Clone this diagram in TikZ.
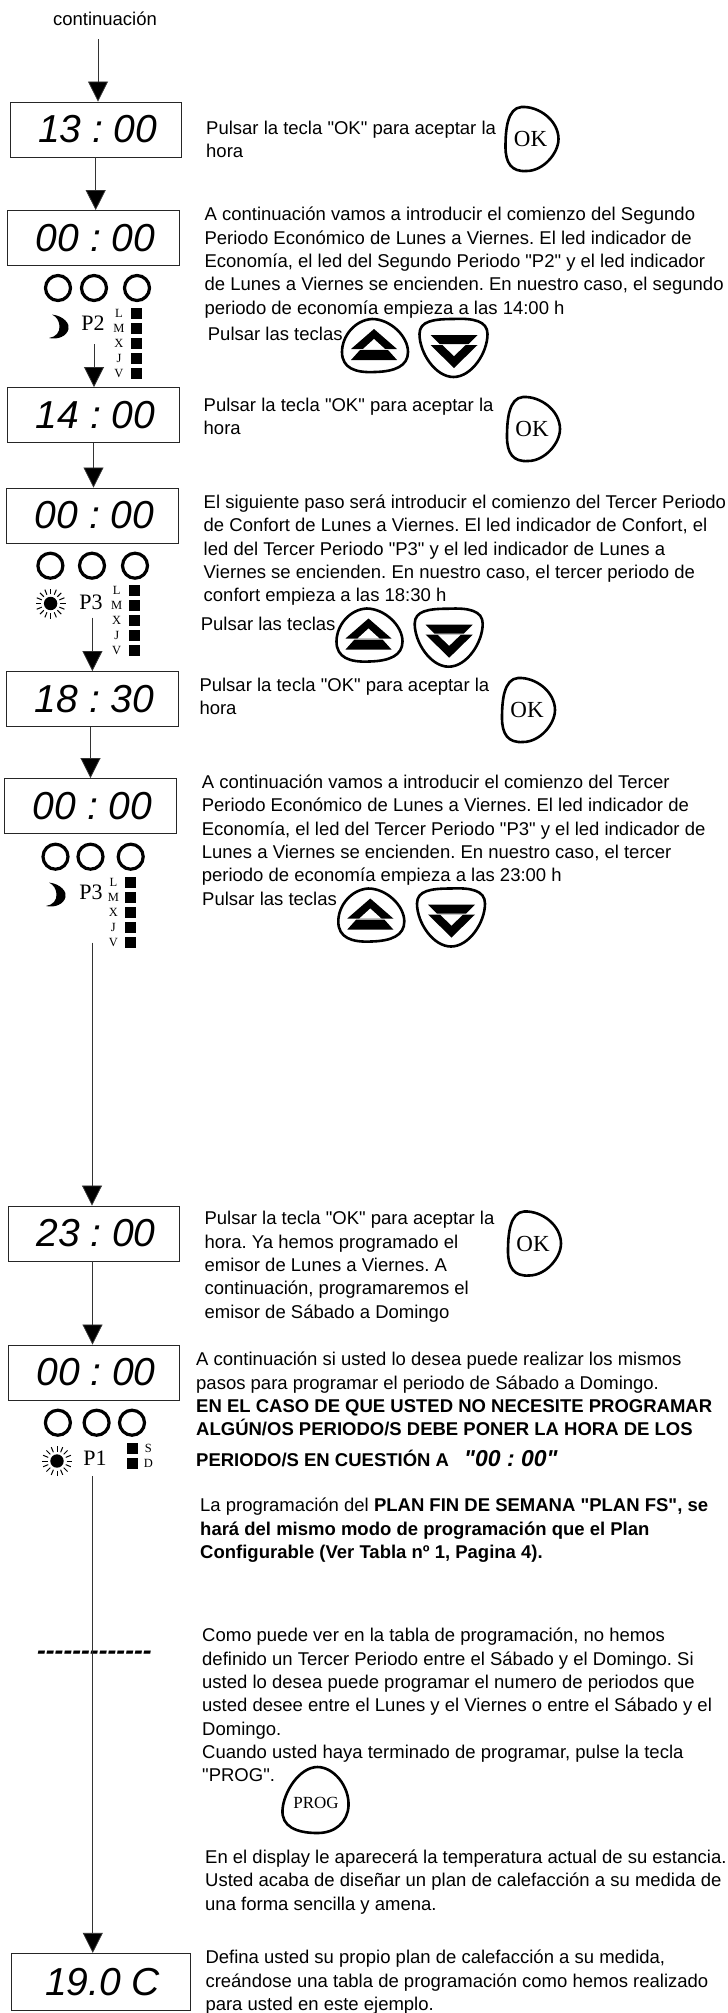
\documentclass[tikz,border=0pt]{standalone}
\usepackage{fontspec}
\usepackage{tikz}
\usetikzlibrary{arrows.meta}
\setmainfont{Liberation Sans}
\newfontfamily\manualfont{Liberation Sans}
\newfontfamily\keyfont{Liberation Serif}

\begin{document}
\frenchspacing
\begin{tikzpicture}[x=1pt,y=-1pt,
	  display/.style={draw=black!85,line width=0.9pt,minimum width=171.5pt,minimum height=55pt,inner sep=0pt,font=\itshape\fontsize{39}{39}\selectfont,execute at begin node=\hspace{4pt}},
	  flow/.style={draw=black!80,line width=0.8pt,-{Triangle[length=20pt,width=20pt,fill=black]}},
	  para/.style={anchor=north west,align=left,inner sep=0pt,yshift=7pt,font=\manualfont\fontsize{18.5}{23.3}\selectfont,execute at begin node=\strut},
	  single/.style={yshift=3pt},
	  led/.style={draw,circle,line width=3.2pt,minimum size=25pt,inner sep=0pt},
	  period/.style={inner sep=0pt,font=\keyfont\fontsize{22}{22}\selectfont},
	  dia/.style={inner sep=0pt,font=\keyfont\fontsize{12.5}{13}\selectfont},
	  cuadro/.style={fill=black,minimum size=11pt,inner sep=0pt},
	  key/.style={draw,line width=2.6pt,line join=round},
	  keylabel/.style={inner sep=0pt,font=\keyfont\fontsize{23}{23}\selectfont},
	  okkey/.pic={
		\path[key] (-10,-32) .. controls (8,-33) and (27,-18) .. (27,0) .. controls (27,14) and (12,32) .. (-5,32) .. controls (-20,33) and (-26,24) .. (-26,8) .. controls (-26,-10) and (-24,-31) .. (-10,-32) -- cycle;
		\node[keylabel] (t) at (-1,0) {OK};
	  },
	  upkey/.pic={
		\path[key] (-3,-27) .. controls (15,-27) and (33,-10) .. (33,6) .. controls (33,20) and (20,25.5) .. (0,26) .. controls (-20,27) and (-33,22) .. (-33,6) .. controls (-33,-10) and (-20,-26) .. (-3,-27) -- cycle;
		\fill (-1,-17) -- (22,3) -- (-24,3) -- cycle;
		\fill[white] (-1,-7) -- (10,3) -- (-12,3) -- cycle;
		\fill (-15,4) -- (13,4) -- (22,14) -- (-24,14) -- cycle;
	  },
	  downkey/.pic={
		\path[key] (0,-29) .. controls (20,-30) and (34,-27) .. (34,-14) .. controls (34,5) and (18,29) .. (0,29) .. controls (-18,29) and (-34,5) .. (-34,-14) .. controls (-34,-27) and (-20,-29) .. (0,-29) -- cycle;
		\fill (-23,-13) -- (24,-13) -- (15,-4) -- (-14,-4) -- cycle;
		\fill (-23,-3) -- (24,-3) -- (0.5,20) -- cycle;
		\fill[white] (-11,-3) -- (12,-3) -- (0.5,8) -- cycle;
	  },
	  progkey/.pic={
		\path[key] (2,-33) .. controls (18,-33) and (34,-14) .. (33,6) .. controls (32,22) and (20,33) .. (2,33) .. controls (-20,33) and (-34,26) .. (-33,10) .. controls (-32,-8) and (-16,-33) .. (2,-33) -- cycle;
		\node[inner sep=0pt,font=\keyfont\fontsize{17}{17}\selectfont] (t) at (0.5,3) {PROG};
	  },
	  moon/.pic={
		\fill (-6,-12.5) .. controls (6,-11) and (12,-3) .. (10.5,2) .. controls (9,9) and (0,13) .. (-9,11) .. controls (-2,10) and (2,5) .. (1.5,-1) .. controls (1,-6) and (-1,-10) .. (-6,-12.5) -- cycle;
	  },
	  sun/.pic={
		\fill (0,0) circle (6.7);
		\foreach \a in {0,22.5,...,337.5}
		  \draw[line width=1pt] (\a:9.5) -- (\a:15);
	  },
	  semana/.pic={
		\foreach \l/\h in {L/0,M/15,X/30,J/45,V/60}{
		  \node[dia] (\l) at (0,\h) {\l};
		  \node[cuadro] (s\l) at (17.5,\h) {};
		}
	  }]

	\useasboundingbox (0,0) rectangle (728,2013);

	\node[para,single,anchor=north] (inicio) at (105,19) {continuación};
	\coordinate (c0) at (98,39);

	\node[display] (d1) at (95.7,129.5) {13 : 00};
	\node[para] (p1) at (206,128) {Pulsar la tecla "OK" para aceptar la\\hora};
	\pic (k1) at (531.5,139) {okkey};

	\node[display] (d2) at (93.5,238) {00 : 00};
	\node[para] (p2) at (204.4,214) {A continuación vamos a introducir el comienzo del Segundo\\Periodo Económico de Lunes a Viernes. El led indicador de\\Economía, el led del Segundo Periodo "P2" y el led indicador\\de Lunes a Viernes se encienden. En nuestro caso, el segundo\\periodo de economía empieza a las 14:00 h};
	\node[led] (a1) at (58,288) {};
	\node[led] (a2) at (94,288) {};
	\node[led] (a3) at (137,288) {};
	\pic (m1) at (58,327) {moon};
	\node[period] (n1) at (93,323) {P2};
	\pic (w1) at (119,313) {semana};
	\coordinate (c1) at (94,344);
	\node[para,single] (q1) at (207.7,334) {Pulsar las teclas};
	\pic (u1) at (375,346) {upkey};
	\pic (v1) at (453.5,348) {downkey};

	\node[display] (d3) at (93.5,415) {14 : 00};
	\node[para] (p3) at (203.5,405) {Pulsar la tecla "OK" para aceptar la\\hora};
	\pic (k2) at (533,429) {okkey};

	\node[display] (d4) at (92.6,515.5) {00 : 00};
	\node[para] (p4) at (203.5,501.7) {El siguiente paso será introducir el comienzo del Tercer Periodo\\de Confort de Lunes a Viernes. El led indicador de Confort, el\\led del Tercer Periodo "P3" y el led indicador de Lunes a\\Viernes se encienden. En nuestro caso, el tercer periodo de\\confort empieza a las 18:30 h};
	\node[led] (b1) at (50.4,565.7) {};
	\node[led] (b2) at (92,565.7) {};
	\node[led] (b3) at (135,565.7) {};
	\pic (s1) at (50.6,603.5) {sun};
	\node[period] (n2) at (91,602.5) {P3};
	\pic (w2) at (116.7,590.5) {semana};
	\coordinate (c2) at (92.4,617.7);
	\node[para,single] (q2) at (200.6,624) {Pulsar las teclas};
	\pic (u2) at (369.5,635.5) {upkey};
	\pic (v2) at (448.7,637.7) {downkey};

	\node[display] (d5) at (92.6,699) {18 : 30};
	\node[para] (p5) at (199.3,685) {Pulsar la tecla "OK" para aceptar la\\hora};
	\pic (k3) at (528,710) {okkey};

	\node[display] (d6) at (90.5,806) {00 : 00};
	\node[para] (p6) at (201.6,781.7) {A continuación vamos a introducir el comienzo del Tercer\\Periodo Económico de Lunes a Viernes. El led indicador de\\Economía, el led del Tercer Periodo "P3" y el led indicador de\\Lunes a Viernes se encienden. En nuestro caso, el tercer\\periodo de economía empieza a las 23:00 h};
	\node[led] (e1) at (55.5,856.7) {};
	\node[led] (e2) at (90.5,856.7) {};
	\node[led] (e3) at (130.7,856.7) {};
	\pic (m2) at (55,895) {moon};
	\node[period] (n3) at (91,892) {P3};
	\pic (w3) at (113.4,882.7) {semana};
	\coordinate (c3) at (92,942.7);
	\node[para,single] (q3) at (202,899) {Pulsar las teclas};
	\pic (u3) at (371.3,915.5) {upkey};
	\pic (v3) at (451,917.5) {downkey};

	\node[display] (d7) at (94,1233.5) {23 : 00};
	\node[para] (p7) at (204.4,1218.3) {Pulsar la tecla "OK" para aceptar la\\hora. Ya hemos programado el\\emisor de Lunes a Viernes. A\\continuación, programaremos el\\emisor de Sábado a Domingo};
	\pic (k4) at (534,1243.5) {okkey};

	\node[display] (d8) at (94,1372.5) {00 : 00};
	\node[para] (p8) at (196,1359) {A continuación si usted lo desea puede realizar los mismos\\pasos para programar el periodo de Sábado a Domingo.\\{\bfseries EN EL CASO DE QUE USTED NO NECESITE PROGRAMAR}\\{\bfseries ALGÚN/OS PERIODO/S DEBE PONER LA HORA DE LOS}};
	\node[para,single] (p9) at (196,1460) {\bfseries PERIODO/S EN CUESTIÓN A \hspace{10pt}{\itshape\fontsize{23}{23}\selectfont "00 : 00"}};
	\node[led] (g1) at (57.9,1422.7) {};
	\node[led] (g2) at (96.6,1422.7) {};
	\node[led] (g3) at (132,1422.7) {};
	\pic (s2) at (57,1461) {sun};
	\node[period] (n4) at (95,1458) {P1};
	\node[cuadro] (sS) at (132.3,1448.3) {};
	\node[cuadro] (sD) at (132.3,1463.3) {};
	\node[dia] (S) at (148.4,1448.3) {S};
	\node[dia] (D) at (148.4,1463.3) {D};
	\coordinate (c4) at (92.8,1476);

	\node[para] (p10) at (200,1505) {La programación del {\bfseries PLAN FIN DE SEMANA "PLAN FS", se}\\{\bfseries hará del mismo modo de programación que el Plan}\\{\bfseries Configurable (Ver Tabla nº 1, Pagina 4).}};

	\node[inner sep=0pt,font=\manualfont\bfseries\itshape\fontsize{26.5}{26.5}\selectfont] (corte) at (94.4,1655) {-------------};
	\node[para] (p11) at (202,1635) {Como puede ver en la tabla de programación, no hemos\\definido un Tercer Periodo entre el Sábado y el Domingo. Si\\usted lo desea puede programar el numero de periodos que\\usted desee entre el Lunes y el Viernes o entre el Sábado y el\\Domingo.\\Cuando usted haya terminado de programar, pulse la tecla\\"PROG".};
	\pic (k5) at (315.5,1800) {progkey};
	\node[para] (p12) at (205,1856.7) {En el display le aparecerá la temperatura actual de su estancia.\\Usted acaba de diseñar un plan de calefacción a su medida de\\una forma sencilla y amena.};

	\node[display,minimum width=179.4pt,minimum height=57.4pt] (d9) at (100.7,1982) {19.0 C};
	\node[para] (p13) at (205.3,1957) {Defina usted su propio plan de calefacción a su medida,\\creándose una tabla de programación como hemos realizado\\para usted en este ejemplo.};

	\draw[flow] (c0) -- (c0 |- d1.north);
	\draw[flow] (d1.south) -- (d1.south |- d2.north);
	\draw[flow] (c1) -- (c1 |- d3.north);
	\draw[flow] (d3.south) -- (d3.south |- d4.north);
	\draw[flow] (c2) -- (c2 |- d5.north);
	\draw[flow] (d6.north |- d5.south) -- (d6.north);
	\draw[flow] (c3) -- (c3 |- d7.north);
	\draw[flow] ([xshift=-1.5pt]d7.south) -- ([xshift=-1.5pt]d8.north);
	\draw[flow] (c4) -- (c4 |- d9.north);
\end{tikzpicture}
\end{document}
